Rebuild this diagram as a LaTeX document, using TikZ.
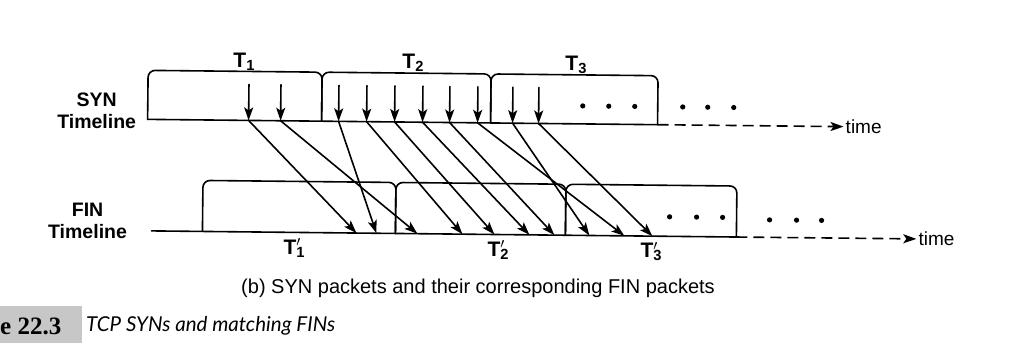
\documentclass[tikz,border=0pt]{standalone}
\usepackage{fontspec}
\setmainfont{Liberation Sans}
\newfontfamily\numfont{Liberation Serif}
\newfontfamily\capfont{Lato}
\usetikzlibrary{arrows.meta}
\newcommand\Tp[1]{T\rlap{\textsubscript{#1}}\textsuperscript{$\prime$}}

\begin{document}
\begin{tikzpicture}[x=1pt,y=-1pt,>={Stealth[length=13pt,width=9pt,inset=3pt]},line join=round,line cap=round,
	every node/.style={font=\bfseries\fontsize{19.5}{22}\selectfont},
	win/.style={line width=1.6pt,rounded corners=7pt},
	pkt/.style={line width=1.6pt,->},
	future/.style={line width=1.6pt,->,dash pattern=on 11pt off 6pt,line cap=butt},
	tlab/.style={font=\bfseries\fontsize{21}{24}\selectfont},
	declare function={ys=122; yf=233.5; hs=49; hf=51; yd=104; ye=214;}]
	\useasboundingbox (0,0) rectangle (1028,343);
	\begin{scope}[rotate around={-0.6:(400,178)}]
		% SYN timeline
		\draw[win] (147,ys) -- (147,ys-hs) -- (321,ys-hs) -- (321,ys);
		\draw[win] (321,ys) -- (321,ys-hs) -- (490,ys-hs) -- (490,ys);
		\draw[win] (490,ys) -- (490,ys-hs) -- (657,ys-hs) -- (657,ys);
		\draw[line width=1.6pt] (147,ys) -- (657,ys);
		\coordinate (se) at (657,ys);
		\coordinate (st) at (843,ys);
		\draw[future] (se) -- (st);
		\node[anchor=west,inner sep=2pt,font=\fontsize{19}{20}\selectfont] (tsyn) at (st) {time};
		\node[align=center] (lsyn) at (96,114) {SYN\\Timeline};
		\node[tlab] (T1) at (243,63) {T\textsubscript{1}};
		\node[tlab] (T2) at (412,63) {T\textsubscript{2}};
		\node[tlab] (T3) at (575,63) {T\textsubscript{3}};
		\fill (582,yd) circle (2.6pt) (608,yd) circle (2.6pt) (634,yd) circle (2.6pt);
		\fill (682,yd) circle (2.6pt) (707,yd) circle (2.6pt) (733,yd) circle (2.6pt);
		% FIN timeline
		\draw[win] (203,yf) -- (203,yf-hf) -- (396,yf-hf) -- (396,yf);
		\draw[win] (396,yf) -- (396,yf-hf) -- (566,yf-hf) -- (566,yf);
		\draw[win] (566,yf) -- (566,yf-hf) -- (737,yf-hf) -- (737,yf);
		\draw[line width=1.6pt] (152,yf) -- (737,yf);
		\coordinate (fe) at (737,yf);
		\coordinate (ft) at (917,yf);
		\draw[future] (fe) -- (ft);
		\node[anchor=west,inner sep=2pt,font=\fontsize{19}{20}\selectfont] (tfin) at (ft) {time};
		\node[align=center] (lfin) at (88,224) {FIN\\Timeline};
		\node[tlab] (T1p) at (293,249) {\Tp{1}};
		\node[tlab] (T2p) at (497,249) {\Tp{2}};
		\node[tlab] (T3p) at (650,249) {\Tp{3}};
		\fill (670,ye) circle (2.6pt) (697,ye) circle (2.6pt) (723,ye) circle (2.6pt);
		\fill (770,ye+2) circle (2.6pt) (797,ye+2) circle (2.6pt) (822,ye+2) circle (2.6pt);
		% packets
		\coordinate (s1) at (248,ys); \coordinate (f1) at (357,yf);
		\coordinate (s2) at (280,ys); \coordinate (f2) at (418,yf);
		\coordinate (s3) at (338,ys); \coordinate (f3) at (377,yf);
		\coordinate (s4) at (366,ys); \coordinate (f4) at (463,yf);
		\coordinate (s5) at (394,ys); \coordinate (f5) at (495,yf);
		\coordinate (s6) at (422,ys); \coordinate (f6) at (530,yf);
		\coordinate (s7) at (449,ys); \coordinate (f7) at (555,yf);
		\coordinate (s8) at (477,ys); \coordinate (f8) at (625,yf);
		\coordinate (s9) at (512,ys); \coordinate (f9) at (590,yf);
		\coordinate (s10) at (538,ys); \coordinate (f10) at (653,yf);
		\draw[pkt] ([yshift=36pt]s1) -- (s1); \draw[pkt] (s1) -- (f1);
		\draw[pkt] ([yshift=36pt]s2) -- (s2); \draw[pkt] (s2) -- (f2);
		\draw[pkt] ([yshift=36pt]s3) -- (s3); \draw[pkt] (s3) -- (f3);
		\draw[pkt] ([yshift=36pt]s4) -- (s4); \draw[pkt] (s4) -- (f4);
		\draw[pkt] ([yshift=36pt]s5) -- (s5); \draw[pkt] (s5) -- (f5);
		\draw[pkt] ([yshift=36pt]s6) -- (s6); \draw[pkt] (s6) -- (f6);
		\draw[pkt] ([yshift=36pt]s7) -- (s7); \draw[pkt] (s7) -- (f7);
		\draw[pkt] ([yshift=36pt]s8) -- (s8); \draw[pkt] (s8) -- (f8);
		\draw[pkt] ([yshift=36pt]s9) -- (s9); \draw[pkt] (s9) -- (f9);
		\draw[pkt] ([yshift=36pt]s10) -- (s10); \draw[pkt] (s10) -- (f10);
	\end{scope}
	\node[font=\fontsize{20}{22}\selectfont] (sub) at (478,288) {(b) SYN packets and their corresponding FIN packets};
	\fill[black!22] (0,306) rectangle (82,343);
	\node[anchor=west,inner sep=0pt,font=\numfont\bfseries\fontsize{25}{28}\selectfont] (fig) at (0,326) {e 22.3};
	\node[anchor=west,inner sep=0pt,font=\capfont\itshape\fontsize{20.5}{24}\selectfont] (cap) at (86,326) {TCP SYNs and matching FINs};
\end{tikzpicture}
\end{document}
